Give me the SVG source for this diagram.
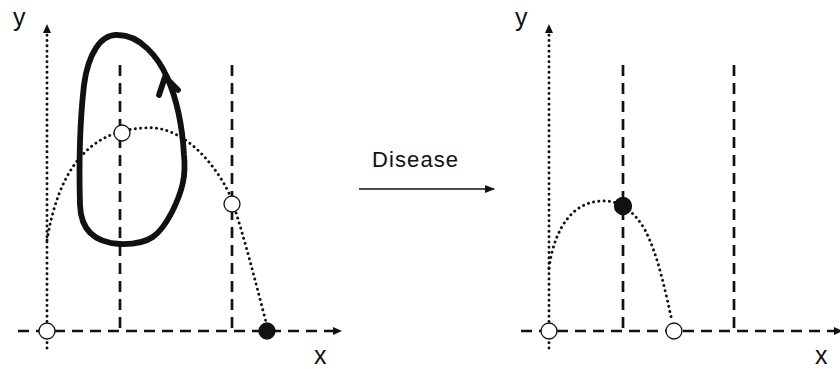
<svg xmlns="http://www.w3.org/2000/svg" width="840" height="369" viewBox="0 0 840 369">
<style>
.lbl{font-family:"Liberation Sans",Arial,sans-serif;font-size:24px;fill:#111}
.dot{fill:none;stroke:#111;stroke-width:2.9;stroke-linecap:round;stroke-dasharray:0.1 5.2}
.dash{fill:none;stroke:#111;stroke-width:2.7;stroke-dasharray:11 7}
.open{fill:#fff;stroke:#111;stroke-width:1.3}
.filled{fill:#111;stroke:#111;stroke-width:1.3}
</style>
<defs>
<marker id="ah" markerWidth="10" markerHeight="8" refX="9" refY="4" orient="auto" markerUnits="userSpaceOnUse">
<path d="M0,0 L10,4 L0,8 Z" fill="#111"/>
</marker>
</defs>
<rect width="840" height="369" fill="#fff"/>
<g id="connectors">
<line class="dot" x1="47" y1="348" x2="47" y2="34"/>
<path d="M43,33 L47,24 L51,33 Z" fill="#111"/>
<line class="dash" x1="18" y1="331" x2="333" y2="331"/>
<path d="M333,327 L342,331 L333,335 Z" fill="#111"/>
<line class="dash" x1="120" y1="65" x2="120" y2="331"/>
<line class="dash" x1="232" y1="65" x2="232" y2="331"/>
<path class="dot" d="M47,240 C58,175 85,130 145,128 C185,124 220,170 232,200 C245,240 255,280 266,322"/>
<path d="M118,35 C100,34 88,55 84,85 C80,120 79,170 80,205 C81,235 100,243 120,244 C150,245 160,235 172,212 C183,190 186,175 184,155 C182,120 175,95 167,77 C158,57 140,35 118,35 Z" fill="none" stroke="#111" stroke-width="5.8" stroke-linejoin="round"/>
<path d="M159,95 L165,77 L178,90" fill="none" stroke="#111" stroke-width="5.8" stroke-linecap="round" stroke-linejoin="round"/>
<line x1="359" y1="189" x2="494" y2="189" stroke="#111" stroke-width="1.3" marker-end="url(#ah)"/>
<line class="dot" x1="549" y1="348" x2="549" y2="34"/>
<path d="M545,33 L549,24 L553,33 Z" fill="#111"/>
<line class="dash" x1="521" y1="331" x2="834" y2="331"/>
<path d="M834,327 L843,331 L834,335 Z" fill="#111"/>
<line class="dash" x1="623" y1="65" x2="623" y2="331"/>
<line class="dash" x1="734" y1="65" x2="734" y2="331"/>
<path class="dot" d="M549,268 C555,225 575,200 605,201 C620,201 635,212 645,230 C658,255 665,290 672,321"/>
</g>
<g id="left-origin"><circle class="open" cx="47" cy="331" r="8"/></g>
<g id="left-peak"><circle class="open" cx="122" cy="133" r="8"/></g>
<g id="left-mid"><circle class="open" cx="232" cy="204" r="8"/></g>
<g id="left-end"><circle class="filled" cx="267" cy="331" r="8"/></g>
<g id="right-origin"><circle class="open" cx="549" cy="331" r="8"/></g>
<g id="right-peak"><circle class="filled" cx="623" cy="206" r="8.5"/></g>
<g id="right-end"><circle class="open" cx="674" cy="331" r="8"/></g>
<g id="labels">
<text class="lbl" x="13" y="26" style="font-size:25px">y</text>
<text class="lbl" x="314" y="364" style="font-size:25px">x</text>
<text class="lbl" x="515" y="26" style="font-size:25px">y</text>
<text class="lbl" x="815" y="364" style="font-size:25px">x</text>
<text class="lbl" x="372" y="167" style="font-size:22px;letter-spacing:1.1px">Disease</text>
</g>
</svg>
